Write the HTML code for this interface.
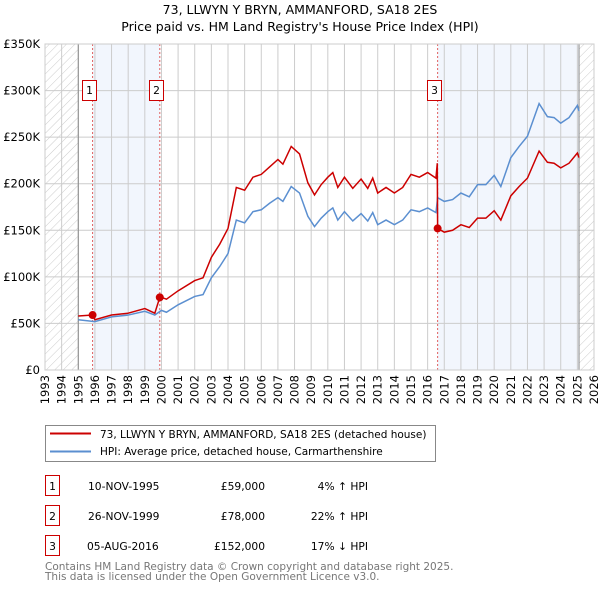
<!DOCTYPE html>
<html><head><meta charset="utf-8"><style>
body{margin:0;background:#fff;font-family:"DejaVu Sans","Liberation Sans",sans-serif}
svg text{font-family:"DejaVu Sans","Liberation Sans",sans-serif}
</style></head><body>
<svg id="chart" width="600" height="590" xmlns="http://www.w3.org/2000/svg">
<defs><pattern id="hatch" width="6" height="6" patternUnits="userSpaceOnUse" patternTransform="rotate(45)"><line x1="0" y1="0" x2="0" y2="6" stroke="#ccc" stroke-width="1"/></pattern></defs>
<text x="300" y="14" text-anchor="middle" font-size="12.5">73, LLWYN Y BRYN, AMMANFORD, SA18 2ES</text>
<text x="300" y="31" text-anchor="middle" font-size="12.5">Price paid vs. HM Land Registry's House Price Index (HPI)</text>
<g id="plot"></g>
<g>
<rect x="45.5" y="425.5" width="390" height="36" fill="#fff" stroke="#888"/>
<line x1="50" y1="433.5" x2="91" y2="433.5" stroke="#cc0000" stroke-width="2"/>
<text x="100" y="438" font-size="10.5">73, LLWYN Y BRYN, AMMANFORD, SA18 2ES (detached house)</text>
<line x1="50" y1="451.5" x2="91" y2="451.5" stroke="#5b8fd0" stroke-width="2"/>
<text x="100" y="455" font-size="10.5">HPI: Average price, detached house, Carmarthenshire</text>
</g>
<g font-size="10.7">
<rect x="45.5" y="475.5" width="14" height="20" fill="#fff" stroke="#cc0000"/><text x="52.5" y="490" text-anchor="middle">1</text>
<text x="88" y="490">10-NOV-1995</text><text x="265" y="490" text-anchor="end">£59,000</text><text x="368" y="490" text-anchor="end">4% ↑ HPI</text>
<rect x="45.5" y="505.5" width="14" height="20" fill="#fff" stroke="#cc0000"/><text x="52.5" y="520" text-anchor="middle">2</text>
<text x="88" y="520">26-NOV-1999</text><text x="265" y="520" text-anchor="end">£78,000</text><text x="368" y="520" text-anchor="end">22% ↑ HPI</text>
<rect x="45.5" y="535.5" width="14" height="20" fill="#fff" stroke="#cc0000"/><text x="52.5" y="550" text-anchor="middle">3</text>
<text x="87" y="550">05-AUG-2016</text><text x="265" y="550" text-anchor="end">£152,000</text><text x="368" y="550" text-anchor="end">17% ↓ HPI</text>
</g>
<text x="45" y="570" font-size="10.5" fill="#777">Contains HM Land Registry data © Crown copyright and database right 2025.</text>
<text x="45" y="580" font-size="10.5" fill="#777">This data is licensed under the Open Government Licence v3.0.</text>
</svg>
<script>
const hpiYears=[1995,1996,1997,1998,1999,1999.6,2000,2000.3,2001,2002,2002.5,2003,2003.5,2004,2004.5,2005,2005.5,2006,2006.5,2007,2007.3,2007.8,2008.3,2008.8,2009.2,2009.6,2010,2010.3,2010.6,2011,2011.5,2012,2012.4,2012.7,2013,2013.5,2014,2014.5,2015,2015.5,2016,2016.5,2016.6,2017,2017.5,2018,2018.5,2019,2019.5,2020,2020.4,2021,2021.5,2022,2022.7,2023.2,2023.6,2024,2024.5,2025,2025.1];
const hpiValues=[54,52,57,59,63,59,64,62,70,79,81,99,111,125,161,158,170,172,179,185,181,197,190,165,154,163,170,174,161,170,160,168,160,169,156,161,156,161,172,170,174,169,185,181,183,190,186,199,199,209,197,228,240,251,286,272,271,265,271,284,278];
const redYears=[1995,1995.86,1996,1997,1998,1999,1999.6,1999.9,2000,2000.3,2001,2002,2002.5,2003,2003.5,2004,2004.5,2005,2005.5,2006,2006.5,2007,2007.3,2007.8,2008.3,2008.8,2009.2,2009.6,2010,2010.3,2010.6,2011,2011.5,2012,2012.4,2012.7,2013,2013.5,2014,2014.5,2015,2015.5,2016,2016.5,2016.58,2016.6,2017,2017.5,2018,2018.5,2019,2019.5,2020,2020.4,2021,2021.5,2022,2022.7,2023.2,2023.6,2024,2024.5,2025,2025.1];
const redValues=[58,59,54,59,61,66,61,78,78,76,85,96,99,121,135,152,196,193,207,210,218,226,221,240,232,201,188,199,207,212,196,207,195,205,195,206,190,196,190,196,210,207,212,206,222,152,148,150,156,153,163,163,171,161,187,197,206,235,223,222,217,222,233,228];
const saleYears=[1995.86,1999.9,2016.6];
const saleValues=[59,78,152];
const saleLabels=["1","2","3"];
const yTicks=[0,50,100,150,200,250,300,350];
const yTickLabels=["£0","£50K","£100K","£150K","£200K","£250K","£300K","£350K"];
const xTicks=[];for(let y=1993;y<=2026;y++)xTicks.push(y);

const L=45,R=594,T=44,B=370;
const x=v=>L+(v-1993)/(2026-1993)*(R-L);
const y=v=>B-v/350*(B-T);
const NS="http://www.w3.org/2000/svg";
const g=document.getElementById('plot');
function mk(t,a){const e=document.createElementNS(NS,t);for(const k in a)e.setAttribute(k,a[k]);g.appendChild(e);return e;}
let e;
e=mk('rect',{x:x(saleYears[0]),y:T,width:x(saleYears[1])-x(saleYears[0]),height:B-T,fill:'#f2f6fd'});


e=mk('rect',{x:x(saleYears[2]),y:T,width:x(2025.1)-x(saleYears[2]),height:B-T,fill:'#f2f6fd'});


e=mk('rect',{x:L,y:T,width:x(1995)-L,height:B-T,fill:'url(#hatch)'});


e=mk('rect',{x:x(2025.1),y:T,width:R-x(2025.1),height:B-T,fill:'url(#hatch)'});


xTicks.forEach(t=>{
 e=mk('line',{x1:x(t),x2:x(t),y1:T,y2:B,stroke:'#ccc','stroke-width':1});
 
 
 e=mk('text',{x:0,y:0,'font-size':11.5,'text-anchor':'end',transform:`translate(${x(t)+4},${B+5}) rotate(-90)`});
 e.textContent=t;
 
 
});
yTicks.forEach((t,i)=>{
 e=mk('line',{x1:L,x2:R,y1:y(t),y2:y(t),stroke:'#ccc','stroke-width':1});
 
 
 e=mk('text',{x:40,y:y(t)+4,'font-size':11.5,'text-anchor':'end'});
 e.textContent=yTickLabels[i];
 
 
});
e=mk('line',{x1:x(1995),x2:x(1995),y1:T,y2:B,stroke:'#888','stroke-width':1});


e=mk('line',{x1:x(2025.1),x2:x(2025.1),y1:T,y2:B,stroke:'#888','stroke-width':1});


saleYears.forEach((s,i)=>{
 e=mk('line',{x1:x(s),x2:x(s),y1:T,y2:B,stroke:'#e06060','stroke-width':1,'stroke-dasharray':'2,2'});
 
 
});
e=mk('polyline',{points:hpiYears.map((v,i)=>x(v)+','+y(hpiValues[i])).join(' '),fill:'none',stroke:'#5b8fd0','stroke-width':1.5});


e=mk('polyline',{points:redYears.map((v,i)=>x(v)+','+y(redValues[i])).join(' '),fill:'none',stroke:'#cc0000','stroke-width':1.5});


saleYears.forEach((s,i)=>{
 e=mk('circle',{cx:x(s),cy:y(saleValues[i]),r:4,fill:'#cc0000'});
 
 
 e=mk('rect',{x:Math.round(x(s))-10.5,y:80.5,width:14,height:20,fill:'#fff',stroke:'#cc0000'});
 
 
 e=mk('text',{x:Math.round(x(s))-3.5,y:94,'font-size':10.7,'text-anchor':'middle'});
 e.textContent=saleLabels[i];
 
 
});
e=mk('rect',{x:L,y:T,width:R-L,height:B-T,fill:'none',stroke:'#ccc'});


</script>
</body></html>
